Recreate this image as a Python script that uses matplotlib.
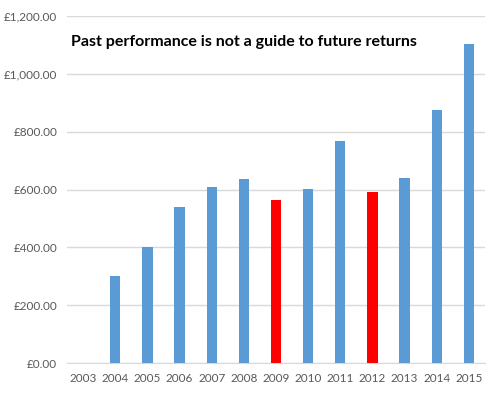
import matplotlib.pyplot as plt
from matplotlib.ticker import FuncFormatter

years = ['2003', '2004', '2005', '2006', '2007', '2008', '2009',
         '2010', '2011', '2012', '2013', '2014', '2015']
values = [0, 300, 400, 540, 610, 637, 564, 602, 768, 592, 640, 875, 1104]
down_years = ['2009', '2012']

BLUE = '#5b9bd5'
RED = '#ff0000'
colors = [RED if y in down_years else BLUE for y in years]

plt.rcParams['font.family'] = ['Lato', 'DejaVu Sans']

fig = plt.figure(figsize=(4.98, 3.94), dpi=100)
ax = fig.add_axes([67 / 498, 31 / 394, 418 / 498, 347 / 394])

x = range(len(years))
ax.bar(x, values, width=0.32, color=colors, zorder=3)
ax.set_xlim(-0.5, len(years) - 0.5)
ax.set_ylim(0, 1200)
ax.set_yticks(range(0, 1201, 200))
ax.yaxis.set_major_formatter(FuncFormatter(lambda v, p: '£{:,.2f}'.format(v)))
ax.set_xticks(list(x))
ax.set_xticklabels(years)

ax.grid(axis='y', color='#d9d9d9', linewidth=1, zorder=0)
for s in ['top', 'right', 'left']:
    ax.spines[s].set_visible(False)
ax.spines['bottom'].set_color('#d9d9d9')
ax.tick_params(length=0, colors='#595959', labelsize=8.5)
ax.tick_params(axis='y', pad=7)
ax.tick_params(axis='x', pad=7)

ax.text(0.01, 0.925, 'Past performance is not a guide to future returns',
        transform=ax.transAxes, fontsize=11.5, fontweight='bold',
        color='black', va='center', ha='left')

fig.savefig('out.png', dpi=100)
